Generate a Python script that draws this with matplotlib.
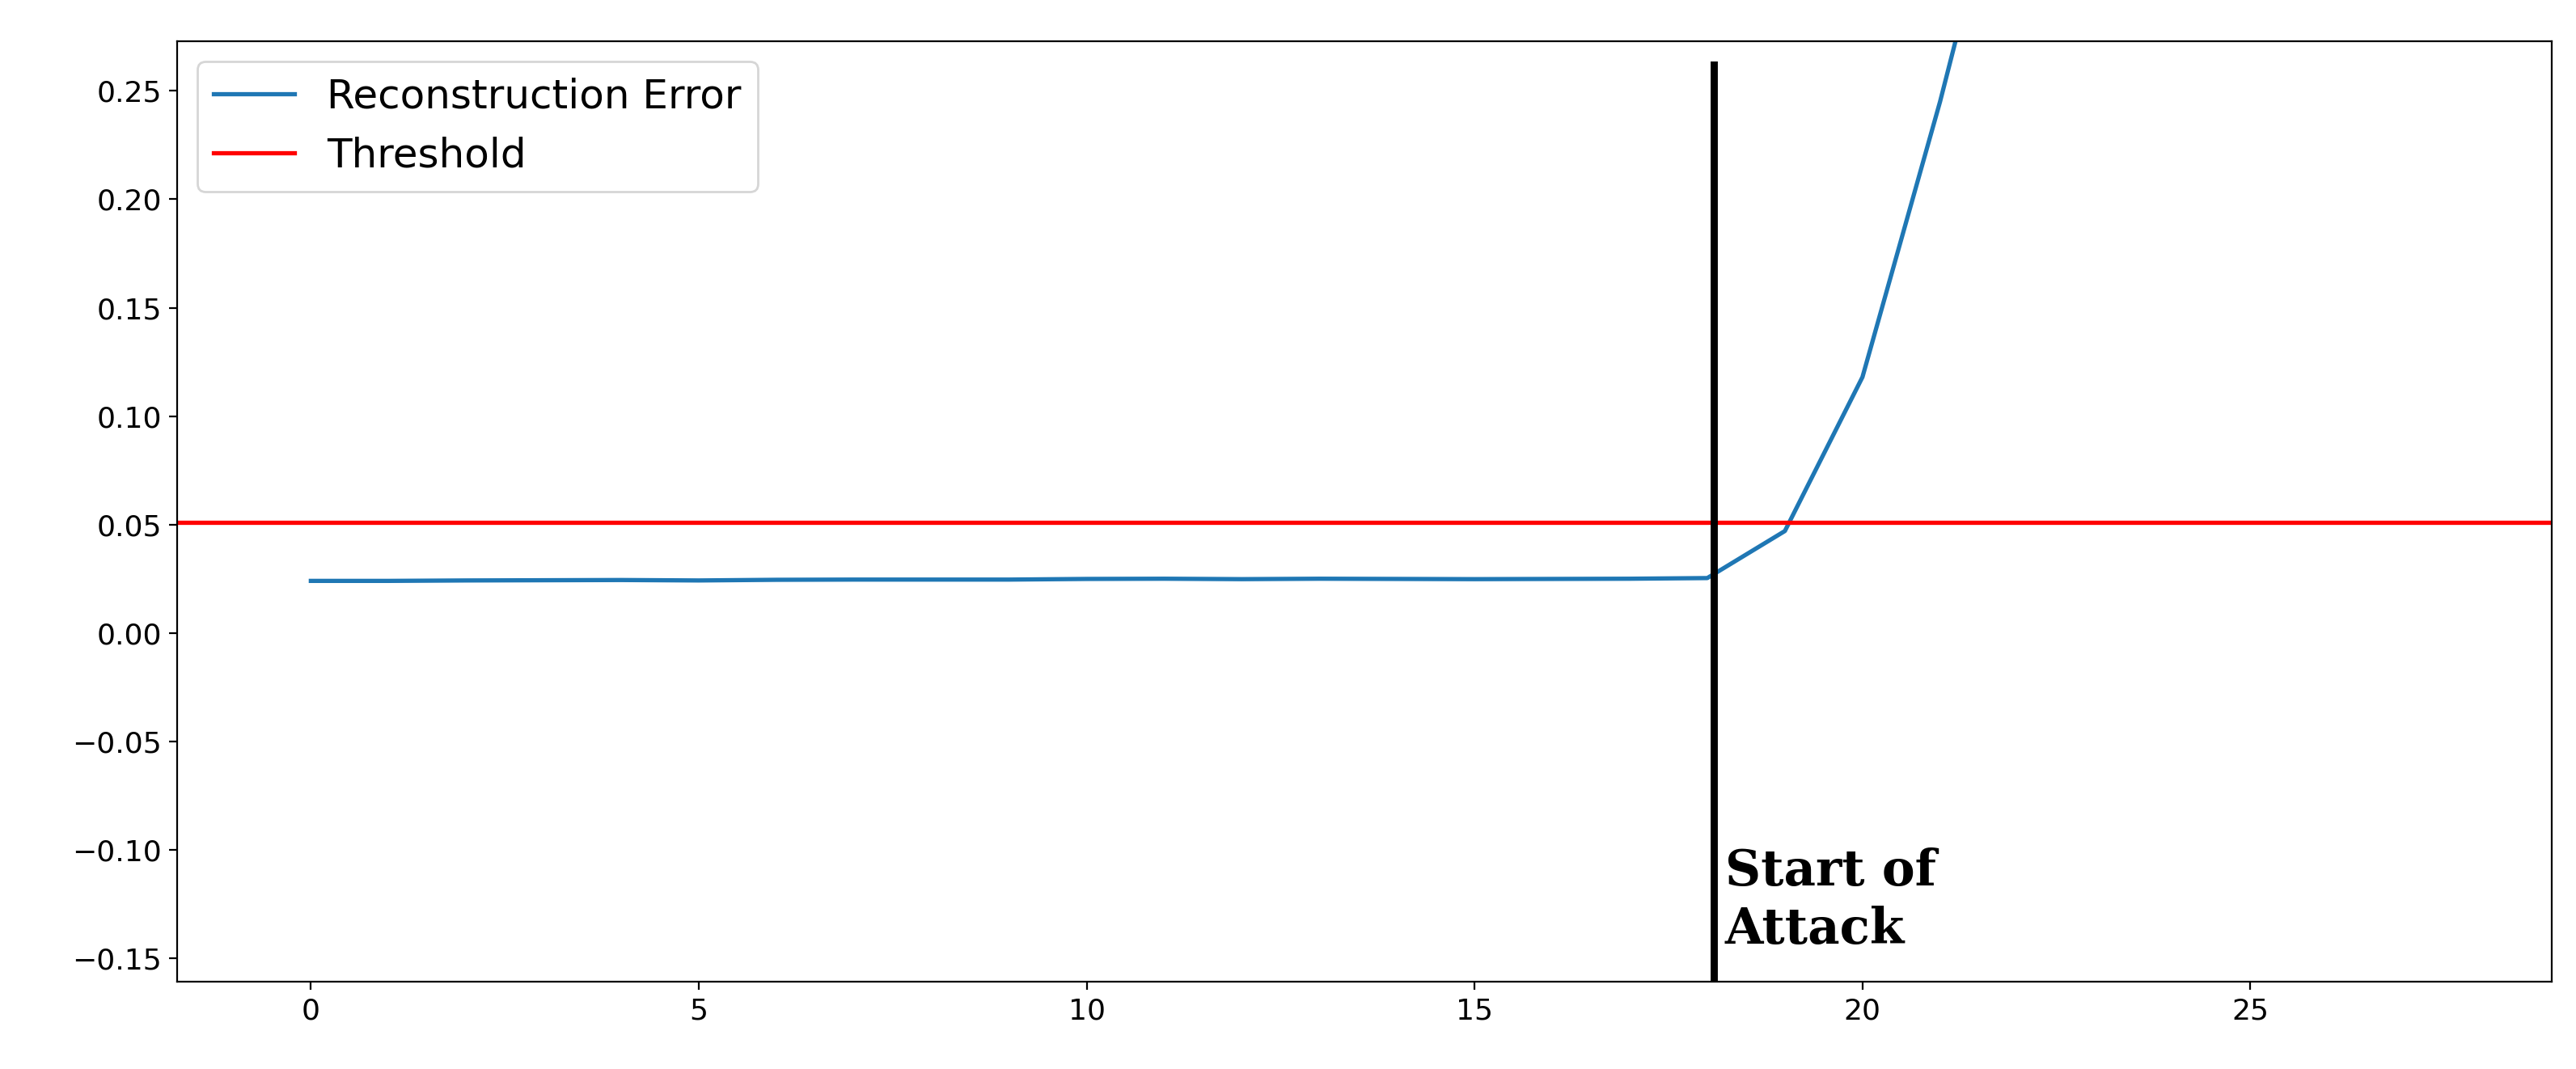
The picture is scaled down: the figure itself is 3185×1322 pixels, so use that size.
import matplotlib
matplotlib.use("Agg")
import matplotlib.pyplot as plt

x = list(range(0, 23))
err = [0.024, 0.024, 0.0242, 0.0243, 0.0244, 0.0242, 0.0245, 0.0246, 0.0246, 0.0246,
       0.0249, 0.025, 0.0248, 0.025, 0.0249, 0.0248, 0.0249, 0.025, 0.0253,
       0.047, 0.118, 0.245, 0.385]
threshold = 0.051
attack_x = 18.08

fig = plt.figure(figsize=(15.925, 6.61), dpi=200)
ax = fig.add_axes([108/1568, 1-598/651, (1553-108)/1568, (598-25)/651])
ax.plot(x, err, color="#1f77b4", lw=1.9, label="Reconstruction Error")
ax.axhline(threshold, color="red", lw=1.9, label="Threshold")
ax.plot([attack_x, attack_x], [-0.161, 0.262], color="black", lw=3.2)
ax.text(attack_x + 0.15, -0.148, "Start of\nAttack", family="DejaVu Serif",
        fontweight="bold", fontsize=22, va="bottom", ha="left", linespacing=1.25)
ax.set_xlim(-1.72, 28.88)
ax.set_ylim(-0.161, 0.273)
ax.set_xticks([0, 5, 10, 15, 20, 25])
ax.set_yticks([-0.15, -0.10, -0.05, 0.00, 0.05, 0.10, 0.15, 0.20, 0.25])
ax.tick_params(labelsize=13)
ax.legend(loc="upper left", fontsize=18)
fig.savefig("out.png", dpi=200)
